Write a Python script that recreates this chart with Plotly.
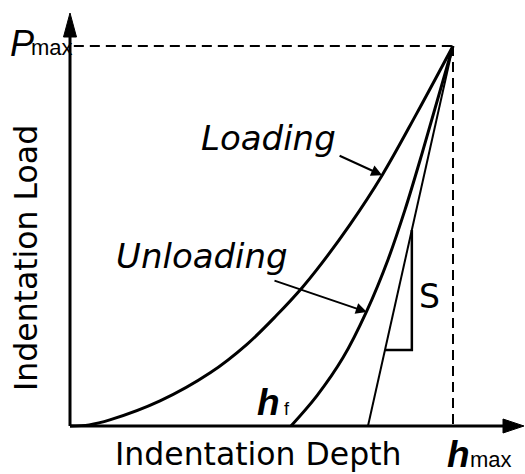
import plotly.graph_objects as go

# ---- data (normalised: depth / h_max, load / P_max) ----
load_depth = [0.0, 0.05, 0.104, 0.235, 0.366, 0.462, 0.540, 0.606, 0.645, 0.731, 0.815, 0.905, 1.0]
load_force = [0.0, 0.003, 0.016, 0.066, 0.140, 0.215, 0.292, 0.364, 0.412, 0.530, 0.660, 0.822, 1.0]

unload_depth = [0.577, 0.645, 0.713, 0.775, 0.830, 0.875, 0.920, 1.0]
unload_force = [0.0, 0.080, 0.180, 0.303, 0.437, 0.570, 0.720, 1.0]

tangent_depth = [0.778, 1.0]
tangent_force = [0.0, 1.0]

tri_base_force = 0.2
tri_top_force = 0.516

h_max = 1.0
P_max = 1.0

# loading / unloading pointer arrows: (tail_x, tail_y, head_x, head_y)
load_arrow = (0.700, 0.713, 0.815, 0.660)
unload_arrow = (0.530, 0.384, 0.775, 0.300)

# ---- canvas geometry ----
W, H = 525, 474
X0_PX, SX = 70, 383      # pixel of depth 0, pixels per unit depth
Y0_PX, SY = 426, 380     # pixel of load 0, pixels per unit load
x_range = [-X0_PX / SX, (W - X0_PX) / SX]
y_range = [-(H - Y0_PX) / SY, Y0_PX / SY]

x_tip = (524 - X0_PX) / SX
y_tip = (Y0_PX - 13) / SY


def tan_x(f):
    return tangent_depth[0] + (tangent_depth[1] - tangent_depth[0]) * f / tangent_force[1]


fig = go.Figure()
black = "#000000"

# axes
fig.add_trace(go.Scatter(x=[0, x_tip - 0.05], y=[0, 0], mode="lines",
                         line=dict(color=black, width=3), hoverinfo="skip"))
fig.add_trace(go.Scatter(x=[0, 0], y=[0, y_tip - 0.05], mode="lines",
                         line=dict(color=black, width=3), hoverinfo="skip"))
# arrow heads of axes
ahx_len, ahx_half = 21 / SX, 7 / SY
fig.add_trace(go.Scatter(x=[x_tip, x_tip - ahx_len, x_tip - ahx_len, x_tip],
                         y=[0, ahx_half, -ahx_half, 0], mode="lines", fill="toself",
                         fillcolor=black, line=dict(color=black, width=1), hoverinfo="skip"))
ahy_len, ahy_half = 24 / SY, 6.5 / SX
fig.add_trace(go.Scatter(x=[0, -ahy_half, ahy_half, 0],
                         y=[y_tip, y_tip - ahy_len, y_tip - ahy_len, y_tip], mode="lines",
                         fill="toself", fillcolor=black, line=dict(color=black, width=1),
                         hoverinfo="skip"))

# dashed guides
fig.add_trace(go.Scatter(x=[0.01, h_max], y=[P_max, P_max], mode="lines",
                         line=dict(color=black, width=2, dash="10px,6px"), hoverinfo="skip"))
fig.add_trace(go.Scatter(x=[h_max, h_max], y=[P_max, 0], mode="lines",
                         line=dict(color=black, width=2, dash="10px,6px"), hoverinfo="skip"))

# curves
fig.add_trace(go.Scatter(x=load_depth, y=load_force, mode="lines", line_shape="spline",
                         line=dict(color=black, width=3), name="Loading"))
fig.add_trace(go.Scatter(x=unload_depth, y=unload_force, mode="lines", line_shape="spline",
                         line=dict(color=black, width=3), name="Unloading"))
fig.add_trace(go.Scatter(x=tangent_depth, y=tangent_force, mode="lines",
                         line=dict(color=black, width=2), name="Tangent"))
# stiffness triangle
fig.add_trace(go.Scatter(x=[tan_x(tri_base_force), tan_x(tri_top_force), tan_x(tri_top_force)],
                         y=[tri_base_force, tri_base_force, tri_top_force], mode="lines",
                         line=dict(color=black, width=2.5), hoverinfo="skip"))

annotations = []
for tx, ty, hx, hy in (load_arrow, unload_arrow):
    annotations.append(dict(x=hx, y=hy, ax=tx, ay=ty, xref="x", yref="y", axref="x", ayref="y",
                            showarrow=True, arrowhead=2, arrowsize=1.1, arrowwidth=2,
                            arrowcolor=black, text=""))

DJ = "DejaVu Sans"
LB = "Liberation Sans"


def label(text, cx, cy, size, family=DJ, xanchor="center", angle=0):
    annotations.append(dict(x=cx / W, y=1 - cy / H, xref="paper", yref="paper", text=text,
                            showarrow=False, xanchor=xanchor, yanchor="middle",
                            textangle=angle, font=dict(family=family, size=size, color=black)))


label("<i>Loading</i>", 268, 138, 34)
label("<i>Unloading</i>", 202, 256, 34)
label("Indentation Depth", 258, 454, 31.5)
label("Indentation Load", 26, 258, 31.5, angle=-90)
label("S", 429, 296, 33)
label("<i>P</i>", 8, 43, 36, family=LB, xanchor="left")
label("max", 29, 47, 22, family=LB, xanchor="left")
label("<b><i>h</i></b>", 445, 454, 37, family=LB, xanchor="left")
label("max", 468, 459, 22, family=LB, xanchor="left")
label("<b><i>h</i></b>", 255, 402, 37, family=LB, xanchor="left")
label("f", 282, 408.5, 18, family=LB, xanchor="left")

fig.update_layout(
    width=W, height=H, margin=dict(l=0, r=0, t=0, b=0),
    paper_bgcolor="white", plot_bgcolor="white", showlegend=False,
    xaxis=dict(range=x_range, visible=False, fixedrange=True),
    yaxis=dict(range=y_range, visible=False, fixedrange=True),
    annotations=annotations,
)

fig.write_html("out.html")
